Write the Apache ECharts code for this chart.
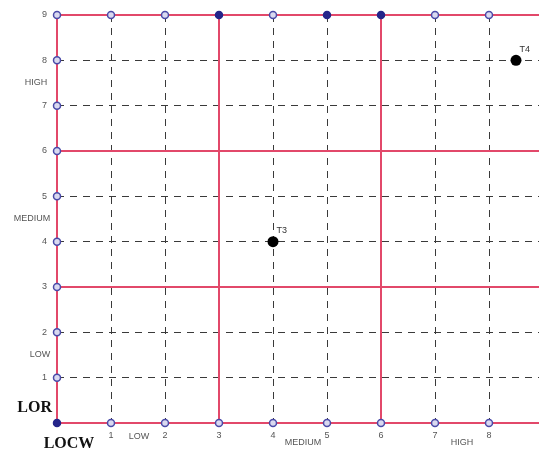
<!DOCTYPE html>
<html><head><meta charset="utf-8">
<script src="https://cdn.jsdelivr.net/npm/echarts@6/dist/echarts.min.js"></script>
<style>html,body{margin:0;padding:0;background:#fff}#c{width:539px;height:450px}</style>
</head><body><div id="c"></div>
<script>
// ---- data ----
const xTicks = [0,1,2,3,4,5,6,7,8,9];
const yTicks = [0,1,2,3,4,5,6,7,8,9];
const majorLines = [0,3,6,9];
const filledTopX = [3,5,6];
const pointNames = ['T3','T4'];
const pointX = [4, 8.5];
const pointY = [4, 8];
const bandNames = ['LOW','MEDIUM','HIGH'];
const bandCenters = [1.5, 4.5, 7.5];
const xTitle = 'LOCW';
const yTitle = 'LOR';

const chart = echarts.init(document.getElementById('c'), null, {renderer:'canvas'});

const markerLight = {color:'#d9d9f0', borderColor:'#4a4aa8', borderWidth:1.5, opacity:1};
const markerDark = {color:'#25258a', borderColor:'#25258a', borderWidth:1.5, opacity:1};
const markers = [];
xTicks.forEach(x => { if (x < 9) markers.push({value:[x,0], itemStyle: x===0?markerDark:markerLight}); });
xTicks.forEach(x => { if (x < 9) markers.push({value:[x,9], itemStyle: filledTopX.includes(x)?markerDark:markerLight}); });
yTicks.forEach(y => { if (y>0 && y<9) markers.push({value:[0,y], itemStyle: markerLight}); });

const axisCommon = {
  type:'value', min:0, max:9, interval:1,
  axisLine:{show:false}, axisTick:{show:false},
  splitLine:{show:true, lineStyle:{color:'#3a3a3a', type:[7,6], width:1}}
};

chart.setOption({
  animation:false,
  grid:{left:57, top:15, width:486, height:408, outerBoundsMode:'none', containLabel:false},
  xAxis: Object.assign({}, axisCommon, {
    axisLabel:{formatter: v => (v===0||v===9)?'':String(v), color:'#555', fontSize:9, margin:8, fontFamily:'Liberation Sans'}
  }),
  yAxis: Object.assign({}, axisCommon, {
    axisLabel:{formatter: v => v===0?'':String(v), color:'#555', fontSize:9, margin:10, fontFamily:'Liberation Sans'}
  }),
  series:[
    {type:'scatter', data:[], silent:true,
     markLine:{silent:true, symbol:'none', label:{show:false}, animation:false,
       lineStyle:{color:'#e2486a', width:2, type:'solid', opacity:1},
       data: majorLines.map(v=>({xAxis:v})).concat(majorLines.map(v=>({yAxis:v})))}},
    {type:'scatter', symbol:'circle', symbolSize:7, z:5, clip:false, data:markers},
    {type:'scatter', symbol:'circle', symbolSize:11, z:6, itemStyle:{color:'#000', opacity:1},
     data: pointNames.map((n,i)=>({name:n, value:[pointX[i], pointY[i]]})),
     label:{show:true, formatter:p=>p.name, position:[9,-10], fontSize:9, color:'#333', fontFamily:'Liberation Sans'}}
  ]
});

const px = (x,y) => chart.convertToPixel({gridIndex:0},[x,y]);
const graphics = [];
const bandXOffsets = [[1,14],[3,20],[0,20]];
const bandYOffsets = [-17,-25,-21];
bandNames.forEach((n,i)=>{
  const p = px(bandCenters[i], 0);
  graphics.push({type:'text', x:p[0]+bandXOffsets[i][0], y:p[1]+bandXOffsets[i][1], style:{text:n, fill:'#555', font:'9px "Liberation Sans"', textAlign:'center', textVerticalAlign:'middle'}});
  const q = px(0, bandCenters[i]);
  graphics.push({type:'text', x:q[0]+bandYOffsets[i], y:q[1], style:{text:n, fill:'#555', font:'9px "Liberation Sans"', textAlign:'center', textVerticalAlign:'middle'}});
});
const o = px(0,0);
graphics.push({type:'text', x:o[0]-5, y:o[1]-15, style:{text:yTitle, fill:'#111', font:'bold 16px "Liberation Serif"', textAlign:'right', textVerticalAlign:'middle'}});
graphics.push({type:'text', x:o[0]+12, y:o[1]+21, style:{text:xTitle, fill:'#111', font:'bold 16px "Liberation Serif"', textAlign:'center', textVerticalAlign:'middle'}});
chart.setOption({graphic:graphics});
</script></body></html>
